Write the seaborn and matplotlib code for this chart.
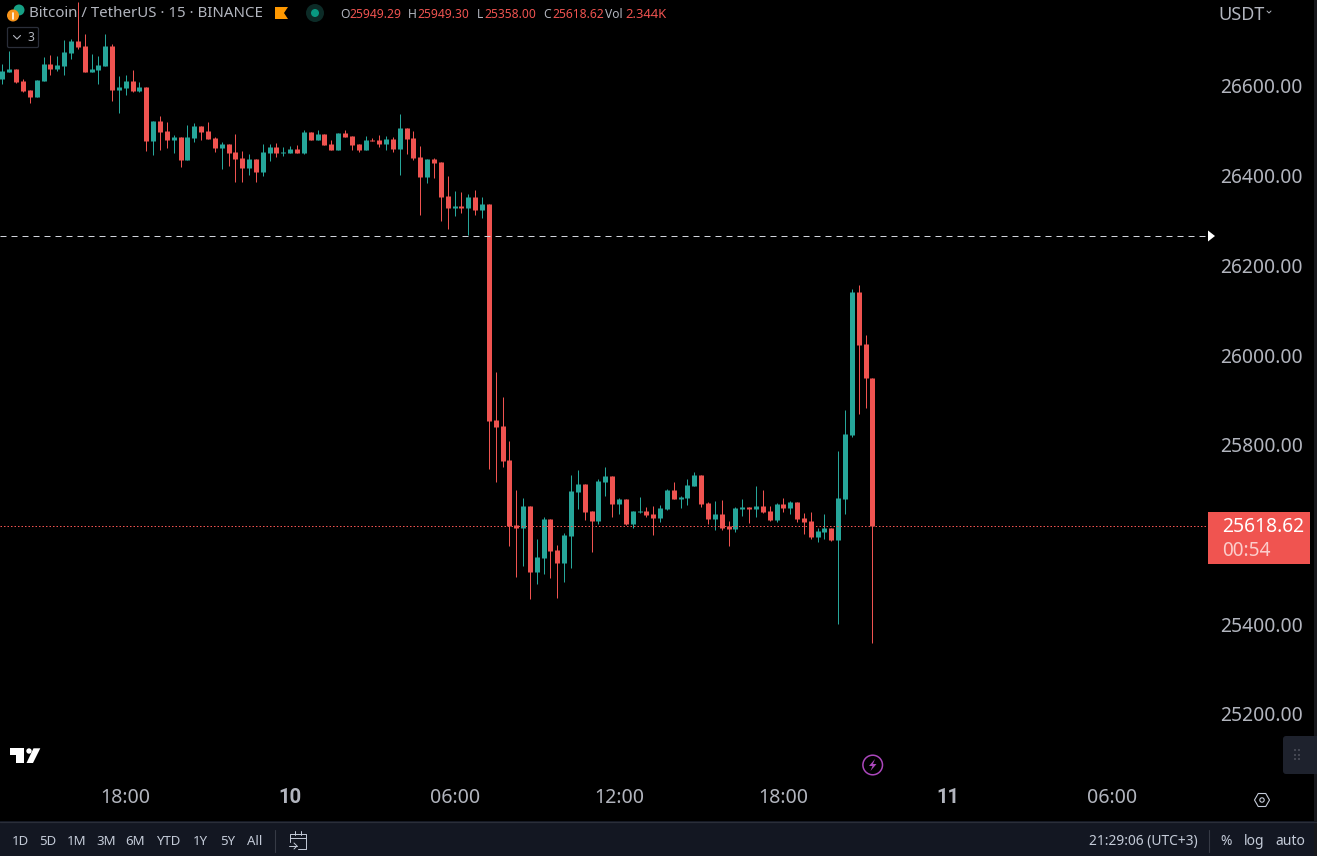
import pandas as pd
import numpy as np
import matplotlib
matplotlib.use('Agg')
import matplotlib.pyplot as plt
from matplotlib.patches import Rectangle, Polygon, Circle, FancyBboxPatch
import seaborn as sns

# BTC/USDT 15 min candles
opens = [26616, 26631, 26638, 26611, 26591, 26576, 26611, 26649, 26638, 26645, 26674, 26700, 26689, 26631, 26636, 26645,
         26689, 26591, 26596, 26611, 26589, 26598, 26477, 26522, 26500, 26480, 26486, 26435, 26484, 26511, 26500, 26484,
         26462, 26471, 26453, 26439, 26417, 26437, 26408, 26451, 26464, 26451, 26451, 26460, 26451, 26497, 26480, 26493,
         26471, 26457, 26495, 26489, 26471, 26457, 26480, 26480, 26471, 26482, 26460, 26506, 26484, 26442, 26397, 26437,
         26431, 26355, 26328, 26333, 26328, 26353, 26324, 26337, 25855, 25842, 25766, 25621, 25615, 25664, 25517, 25548,
         25635, 25566, 25537, 25597, 25695, 25713, 25653, 25630, 25717, 25731, 25668, 25679, 25624, 25650, 25653, 25646,
         25637, 25657, 25699, 25679, 25682, 25708, 25733, 25670, 25635, 25646, 25619, 25612, 25657, 25661, 25657, 25664,
         25653, 25633, 25668, 25659, 25673, 25637, 25630, 25595, 25606, 25615, 25588, 25679, 25822, 26141, 26025, 25949.29]
highs = [26649, 26678, 26638, 26616, 26591, 26613, 26665, 26669, 26667, 26703, 26705, 26787, 26716, 26671, 26667, 26716,
         26694, 26622, 26625, 26636, 26609, 26598, 26522, 26533, 26520, 26491, 26486, 26513, 26518, 26511, 26520, 26486,
         26475, 26471, 26493, 26455, 26448, 26437, 26471, 26471, 26473, 26464, 26466, 26468, 26502, 26497, 26502, 26493,
         26480, 26495, 26502, 26489, 26471, 26489, 26484, 26491, 26489, 26486, 26538, 26506, 26500, 26466, 26437, 26439,
         26431, 26399, 26366, 26364, 26359, 26368, 26353, 26337, 25962, 25907, 25809, 25699, 25682, 25664, 25590, 25639,
         25635, 25577, 25603, 25733, 25744, 25713, 25653, 25724, 25751, 25731, 25682, 25679, 25653, 25684, 25661, 25664,
         25666, 25702, 25717, 25686, 25724, 25740, 25733, 25673, 25675, 25677, 25630, 25661, 25679, 25661, 25708, 25699,
         25664, 25670, 25682, 25675, 25673, 25648, 25650, 25615, 25646, 25615, 25786, 25878, 26147, 26156, 26045, 25949.30]
lows = [26604, 26631, 26607, 26587, 26562, 26576, 26611, 26625, 26633, 26625, 26660, 26683, 26631, 26631, 26604, 26645,
        26567, 26540, 26580, 26587, 26587, 26455, 26446, 26457, 26462, 26451, 26419, 26435, 26475, 26480, 26482, 26453,
        26415, 26422, 26386, 26386, 26402, 26386, 26399, 26433, 26442, 26444, 26451, 26451, 26448, 26480, 26480, 26468,
        26457, 26457, 26486, 26457, 26453, 26457, 26477, 26464, 26457, 26453, 26402, 26448, 26435, 26312, 26384, 26395,
        26299, 26281, 26310, 26317, 26268, 26312, 26306, 25746, 25717, 25751, 25575, 25505, 25530, 25456, 25490, 25512,
        25503, 25459, 25494, 25525, 25657, 25633, 25561, 25624, 25686, 25639, 25646, 25621, 25615, 25648, 25639, 25599,
        25628, 25655, 25679, 25659, 25666, 25708, 25661, 25624, 25610, 25610, 25575, 25606, 25641, 25626, 25639, 25648,
        25630, 25628, 25650, 25646, 25628, 25601, 25590, 25583, 25590, 25586, 25401, 25646, 25818, 25869, 25882, 25358.00]
closes = [26633, 26638, 26609, 26589, 26576, 26613, 26649, 26638, 26647, 26676, 26700, 26687, 26631, 26638, 26647, 26689,
          26591, 26598, 26611, 26589, 26598, 26477, 26522, 26497, 26480, 26486, 26435, 26486, 26511, 26497, 26482, 26462,
          26471, 26451, 26437, 26417, 26437, 26408, 26453, 26464, 26451, 26453, 26460, 26451, 26497, 26480, 26493, 26468,
          26457, 26495, 26486, 26468, 26457, 26480, 26477, 26471, 26482, 26460, 26506, 26482, 26439, 26397, 26437, 26428,
          26353, 26328, 26333, 26328, 26353, 26324, 26337, 25853, 25840, 25764, 25619, 25615, 25664, 25517, 25550, 25635,
          25563, 25537, 25599, 25697, 25713, 25650, 25630, 25719, 25731, 25668, 25679, 25624, 25653, 25653, 25644, 25637,
          25659, 25699, 25679, 25684, 25711, 25733, 25668, 25635, 25646, 25615, 25612, 25659, 25661, 25657, 25664, 25650,
          25633, 25668, 25659, 25673, 25635, 25628, 25595, 25608, 25615, 25588, 25682, 25824, 26141, 26023, 25949, 25618.62]

price_ticks = [26600, 26400, 26200, 26000, 25800, 25400, 25200]
time_ticks = [18, 42, 66, 90, 114, 138, 162]
time_labels = ['18:00', '10', '06:00', '12:00', '18:00', '11', '06:00']
range_buttons = ['1D', '5D', '1M', '3M', '6M', 'YTD', '1Y', '5Y', 'All']
range_pos = [20, 48, 77, 106.5, 135.5, 168, 200, 227.5, 255]
prev_close = 26266
last_price = 25618.62

UP = '#26a69a'
DOWN = '#ef5350'
TXT = '#b2b5be'
BTN = '#c4cbd8'
BAR = '#131722'
LINE = '#2a2e39'
W, H = 1317, 856
PANE_W, PANE_H = 1207, 779
SANS = ['Noto Sans', 'DejaVu Sans']

sns.set_theme(style='dark', rc={'axes.facecolor': 'black', 'figure.facecolor': 'black', 'axes.grid': False})
plt.rcParams['font.family'] = SANS

df = pd.DataFrame({'candle': np.arange(len(opens)), 'open': opens, 'high': highs, 'low': lows, 'close': closes})
df['direction'] = np.where(df['close'] >= df['open'], 'up', 'down')
wicks = df.melt(id_vars=['candle', 'direction'], value_vars=['high', 'low'], value_name='price')
bodies = df.melt(id_vars=['candle', 'direction'], value_vars=['open', 'close'], value_name='price')
palette = {'up': UP, 'down': DOWN}

fig = plt.figure(figsize=(W / 100, H / 100), dpi=100)
ax = fig.add_axes([0, 1 - PANE_H / H, PANE_W / W, PANE_H / H])

# one line per candle, thin for the wick and thick for the body
sns.lineplot(data=wicks, x='candle', y='price', units='candle', hue='direction', palette=palette,
             estimator=None, linewidth=0.72, legend=False, ax=ax, solid_capstyle='butt')
sns.lineplot(data=bodies, x='candle', y='price', units='candle', hue='direction', palette=palette,
             estimator=None, linewidth=3.6, legend=False, ax=ax, solid_capstyle='butt')

ax.axhline(prev_close, color='#d1d4dc', lw=0.72, linestyle=(0, (6, 5)), zorder=5)
ax.axhline(last_price, color=DOWN, lw=0.72, linestyle=(0, (1.5, 2)), zorder=5)

# 6.85 px per candle, first candle at 2.5 px; 26600 at 86 px, 25200 at 714 px
ax.set_xlim(-2.5 / 6.85, (PANE_W - 2.5) / 6.85)
ax.set_ylim(26791.7 - 2.2293 * PANE_H, 26791.7)
ax.yaxis.tick_right()
ax.set_yticks(price_ticks)
ax.set_yticklabels([f'{p:.2f}' for p in price_ticks])
ax.set_xticks(time_ticks)
ax.set_xticklabels(time_labels)
ax.tick_params(axis='y', length=0, pad=9.4, labelsize=13.9, labelcolor=TXT)
ax.tick_params(axis='x', length=0, pad=6.5, labelsize=14.1, labelcolor=TXT)
for lab in ax.get_xticklabels():
    if lab.get_text() in ('10', '11'):
        lab.set_family(['Roboto', 'DejaVu Sans'])
        lab.set_fontweight('bold')
        lab.set_fontsize(14.6)
ax.set_xlabel('')
ax.set_ylabel('')
for s in ax.spines.values():
    s.set_visible(False)

# everything around the chart, in pixel coordinates
ui = fig.add_axes([0, 0, 1, 1])
ui.set_xlim(0, W)
ui.set_ylim(H, 0)
ui.axis('off')
ui.patch.set_alpha(0)

# bottom bar
ui.add_patch(Rectangle((0, 821), W, 35, color=BAR, lw=0))
ui.plot([0, W], [821.5, 821.5], color=LINE, lw=0.9)
for lab, x in zip(range_buttons, range_pos):
    ui.text(x, 841.5, lab, color=BTN, fontsize=9.5, ha='center', va='center')
ui.plot([274.5, 274.5], [830, 852], color='#363a45', lw=0.8)
ui.plot([1208.5, 1208.5], [830, 852], color='#363a45', lw=0.8)
ui.text(1143.5, 841.5, '21:29:06 (UTC+3)', color=BTN, fontsize=9.9, ha='center', va='center')
ui.text(1226, 841.5, '%', color=BTN, fontsize=10, ha='center', va='center')
ui.text(1254, 841.5, 'log', color=BTN, fontsize=10, ha='center', va='center')
ui.text(1290, 841.5, 'auto', color=BTN, fontsize=10, ha='center', va='center')
# calendar icon
ui.plot([289.5, 289.5, 306, 306, 298], [842, 833.5, 833.5, 849, 849], color=BTN, lw=0.7)
ui.plot([289.5, 306], [838, 838], color=BTN, lw=0.7)
ui.plot([295, 295], [831, 835], color=BTN, lw=0.7)
ui.plot([301, 301], [831, 835], color=BTN, lw=0.7)
ui.plot([289, 297], [846, 846], color=BTN, lw=0.7)
ui.plot([294, 297, 294], [843, 846, 849], color=BTN, lw=0.7)

# strip on the far right and the collapse button
ui.add_patch(Rectangle((1314, 0), 3, H, color='#17181c', lw=0))
ui.add_patch(FancyBboxPatch((1286, 739), 40, 32, boxstyle='round,pad=3', color='#1e222d', lw=0))
for dx in (1295, 1298.5):
    for dy in (750, 754.5, 759):
        ui.add_patch(Rectangle((dx - 1, dy - 1), 2, 2, color='#434651', lw=0))

# header
ui.add_patch(Circle((19, 10), 5.5, color='#16a085', lw=0))
ui.add_patch(Circle((13, 15.5), 6, color='#f7931a', lw=0))
ui.plot([12.5, 12.5], [12.5, 18.5], color='white', lw=1.2)
ui.text(29, 13, 'Bitcoin / TetherUS · 15 · BINANCE', color=TXT, fontsize=10.85, ha='left', va='center')
ui.add_patch(Polygon([(275, 7), (288, 7), (284, 13), (288, 19), (275, 19)], color='#ff9800', lw=0))
ui.add_patch(Circle((315, 13), 9, color='#0c2b27', lw=0))
ui.add_patch(Circle((315, 13), 4, color='#089981', lw=0))
x_ohlc = [(340, 'O', '25949.29', 9.5), (408, 'H', '25949.30', 9.5), (477, 'L', '25358.00', 7), (543, 'C', '25618.62', 9)]
for x, k, v, gap in x_ohlc:
    ui.text(x, 14, k, color=TXT, fontsize=8.7, ha='left', va='center')
    ui.text(x + gap, 14, v, color=DOWN, fontsize=8.7, ha='left', va='center')
ui.text(605, 14, 'Vol', color=TXT, fontsize=8.7, ha='left', va='center')
ui.text(625, 14, '2.344K', color=DOWN, fontsize=9.4, ha='left', va='center')
ui.add_patch(FancyBboxPatch((9, 29), 28, 17, boxstyle='round,pad=1.5', fc='black', ec=LINE, lw=0.9))
ui.plot([13.5, 17, 20.5], [35.5, 39, 35.5], color=TXT, lw=0.8)
ui.text(30.5, 37.5, '3', color=TXT, fontsize=8.7, ha='center', va='center')
ui.text(1218, 15, 'USDT', color=TXT, fontsize=13, ha='left', va='center')
ui.plot([1267, 1269, 1271], [11, 13, 11], color=TXT, lw=0.7)

# price tag and previous close marker
ui.add_patch(Polygon([(1208, 230.5), (1215, 236), (1208, 241.5)], color='white', lw=0))
ui.add_patch(Rectangle((1208, 512), 102, 52, color='#f05450', lw=0))
ui.text(1222, 527.5, '25618.62', color='white', fontsize=13.9, fontweight='medium', ha='left', va='center')
ui.text(1222, 550.5, '00:54', color='#fbcdcb', fontsize=13.7, ha='left', va='center')

# logo
ui.add_patch(Polygon([(9.5, 748.3), (24, 748.3), (24, 763), (15.5, 763), (15.5, 755), (9.5, 755)], color='white', lw=0))
ui.add_patch(Circle((29, 751), 2.7, color='white', lw=0))
ui.add_patch(Polygon([(33.5, 748.3), (40.3, 748.3), (33, 763), (26.5, 763)], color='white', lw=0))

# lightning badge
ui.add_patch(Circle((872.7, 765), 9.8, fc='black', ec='#ab47bc', lw=1.1))
ui.add_patch(Polygon([(875, 759), (869, 766), (872.5, 766), (870.5, 771), (876.5, 764), (873, 764)], color='#ab47bc', lw=0))

# settings icon
hex_pts = [(1262 + 7.5 * np.cos(a), 800 + 7.5 * np.sin(a)) for a in np.arange(6) * np.pi / 3]
ui.add_patch(Polygon(hex_pts, fc='none', ec=BTN, lw=0.8))
ui.add_patch(Circle((1262, 800), 2.2, fc='none', ec=BTN, lw=0.8))

fig.savefig('out.png', dpi=100, facecolor='black')
